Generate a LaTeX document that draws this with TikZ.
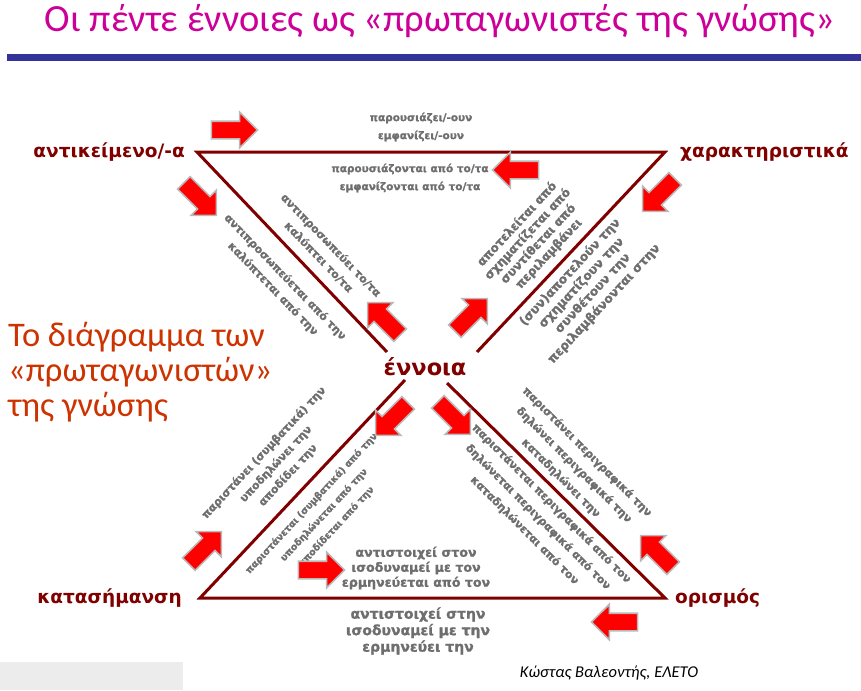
\documentclass[tikz,border=0pt]{standalone}
\usepackage{fontspec}
\setmainfont{Carlito}
\newfontfamily\labelfont{DejaVu Sans}
\newfontfamily\relfont[FakeBold=1.4]{DejaVu Sans Bold}
\usepackage{tikz}
\usetikzlibrary{shapes.arrows, positioning}
\definecolor{titlecolor}{RGB}{204,0,153}
\definecolor{barcolor}{RGB}{51,51,153}
\definecolor{edgecolor}{RGB}{128,0,0}
\definecolor{subcolor}{RGB}{204,51,0}
\definecolor{relcolor}{RGB}{110,110,110}

\newcommand{\relsize}[2]{\relfont\fontsize{#1}{#2}\selectfont}

\begin{document}
\begin{tikzpicture}[
    x=1pt, y=-1pt,
    node distance=12pt,
    corner/.style={font=\labelfont\bfseries\fontsize{18.5}{20}\selectfont, text=edgecolor, inner sep=0pt},
    relation/.style={font=\relsize{11}{17}, text=relcolor, align=center, inner sep=0pt},
    redarrow/.style={single arrow, fill=red, draw=gray!55, line width=1.6pt, minimum height=46pt, inner xsep=0pt, inner ysep=8pt, single arrow head extend=9pt},
    edge/.style={draw=edgecolor, line width=3pt, line join=miter}
]
    \useasboundingbox (0,0) rectangle (861,690);

    % heading
    \node[font=\fontsize{38.5}{42}\selectfont, text=titlecolor] (title) at (440,21) {Οι πέντε έννοιες ως «πρωταγωνιστές της γνώσης»};
    \fill[barcolor] (7,54) rectangle (861,61);

    % the two triangles
    \coordinate (tl) at (197,152);
    \coordinate (tr) at (665,152);
    \coordinate (bl) at (200,598);
    \coordinate (br) at (665,598);
    \coordinate (ul) at (387,352);
    \coordinate (ur) at (477,352);
    \coordinate (ll) at (405,380);
    \coordinate (lr) at (447,383);
    \draw[edge] (ul) -- (tl) -- (tr) -- (ur);
    \draw[edge] (ll) -- (bl) -- (br) -- (lr);

    \node[corner] (concept) at (425,367) {\fontsize{22.5}{24}\selectfont έννοια};
    \node[corner, left=12pt of tl] (object) {αντικείμενο/-α};
    \node[corner, right=15pt of tr] (feature) {χαρακτηριστικά};
    \node[corner, left=18pt of bl] (sign) {κατασήμανση};
    \node[corner, right=10pt of br] (definition) {ορισμός};

    \node[align=left, anchor=west, inner sep=0pt, font=\fontsize{34.5}{35}\selectfont, text=subcolor] (caption) at (8,372) {Το διάγραμμα των\\«πρωταγωνιστών»\\της γνώσης};

    % relations
    \node[relation, font=\relsize{10.5}{18}] (presents) at (421,127) {παρουσιάζει/-ουν\\εμφανίζει/-ουν};
    \node[relation, font=\relsize{10.5}{18}] (presented) at (410,178) {παρουσιάζονται από το/τα\\εμφανίζονται από το/τα};
    \node[relation, rotate=-46] (represents) at (325,251) {αντιπροσωπεύει το/τα\\καλύπτει το/τα};
    \node[relation, rotate=-46] (represented) at (279,283) {αντιπροσωπεύεται από την\\καλύπτεται από την};
    \node[relation, rotate=47, font=\relsize{12}{14.5}] (consists) at (533,239) {αποτελείται από\\σχηματίζεται από\\συντίθεται από\\περιλαμβάνει};
    \node[relation, rotate=47, font=\relsize{12.3}{15.5}] (compose) at (587,288) {(συν)αποτελούν την\\σχηματίζουν την\\συνθέτουν την\\περιλαμβάνονται στην};
    \node[relation, rotate=47, font=\relsize{11}{16.5}] (denotes) at (276,464) {παριστάνει (συμβατικά) την\\υποδηλώνει την\\αποδίδει την};
    \node[relation, rotate=47, font=\relsize{9.5}{17}] (denoted) at (324,515) {παριστάνεται (συμβατικά) από την\\υποδηλώνεται από την\\αποδίδεται από την};
    \node[relation, rotate=-45, font=\relsize{11}{18.5}] (describes) at (574,465) {παριστάνει περιγραφικά την\\δηλώνει περιγραφικά την\\καταδηλώνει την};
    \node[relation, rotate=-45, font=\relsize{11}{19}] (described) at (538,517) {παριστάνεται περιγραφικά από τον\\δηλώνεται περιγραφικά από τον\\καταδηλώνεται από τον};
    \node[relation, font=\relsize{12.6}{15}] (matches) at (416,568) {αντιστοιχεί στον\\ισοδυναμεί με τον\\ερμηνεύεται από τον};
    \node[relation, font=\relsize{14}{16.5}] (interprets) at (418,631) {αντιστοιχεί στην\\ισοδυναμεί με την\\ερμηνεύει την};

    % red block arrows
    \node[redarrow] (a1) at (230,130) {};
    \node[redarrow, rotate=180] (a2) at (520,170) {};
    \node[redarrow, rotate=-135] (a3) at (662,192) {};
    \node[redarrow, rotate=-45] (a4) at (197,196) {};
    \node[redarrow, rotate=135] (a5) at (387,322) {};
    \node[redarrow, rotate=45] (a6) at (468,318) {};
    \node[redarrow, rotate=-135] (a7) at (395,416) {};
    \node[redarrow, rotate=-45] (a8) at (451,415) {};
    \node[redarrow, rotate=45] (a9) at (202,551) {};
    \node[redarrow, rotate=135] (a10) at (660,555) {};
    \node[redarrow] (a11) at (317,570) {};
    \node[redarrow, rotate=180] (a12) at (619,622) {};

    % footer
    \fill[gray!15] (0,662) rectangle (183,690);
    \node[font=\itshape\fontsize{16.5}{18}\selectfont] (author) at (609,673) {Κώστας Βαλεοντής, ΕΛΕΤΟ};
\end{tikzpicture}
\end{document}
